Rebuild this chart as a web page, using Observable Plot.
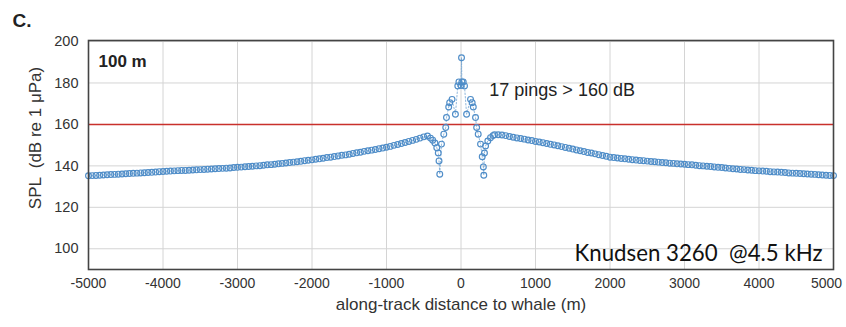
<!DOCTYPE html>
<html>
<head>
<meta charset="utf-8">
<script src="https://cdn.jsdelivr.net/npm/d3@7"></script>
<script src="https://cdn.jsdelivr.net/npm/@observablehq/plot@0.6"></script>
<style>
  html, body { margin: 0; padding: 0; background: #ffffff; }
  #chart { width: 846px; height: 327px; overflow: hidden; }
</style>
</head>
<body>
<div id="chart"></div>
<script>
// ---- tick labels ----
const xTicks = [-5000, -4000, -3000, -2000, -1000, 0, 1000, 2000, 3000, 4000, 5000];
const yTicks = [100, 120, 140, 160, 180, 200];
const threshold = [160];

// ---- left flank of the curve (along-track distance m, SPL dB) ----
const leftDist = [-5000,-4950,-4900,-4850,-4800,-4750,-4700,-4650,-4600,-4550,-4500,-4450,-4400,-4350,-4300,-4250,-4200,-4150,-4100,-4050,
  -4000,-3950,-3900,-3850,-3800,-3750,-3700,-3650,-3600,-3550,-3500,-3450,-3400,-3350,-3300,-3250,-3200,-3150,-3100,-3050,
  -3000,-2950,-2900,-2850,-2800,-2750,-2700,-2650,-2600,-2550,-2500,-2450,-2400,-2350,-2300,-2250,-2200,-2150,-2100,-2050,
  -2000,-1950,-1900,-1850,-1800,-1750,-1700,-1650,-1600,-1550,-1500,-1450,-1400,-1350,-1300,-1250,-1200,-1150,-1100,-1050,
  -1000,-950,-900,-850,-800,-750,-700,-650,-600,-550,-500,-450];
const leftSPL = [135.2,135.3,135.4,135.5,135.6,135.7,135.8,135.9,136.0,136.1,136.2,136.3,136.4,136.5,136.6,136.7,136.8,136.9,137.0,137.2,
  137.3,137.4,137.5,137.6,137.7,137.8,137.8,137.9,138.0,138.1,138.2,138.3,138.4,138.5,138.6,138.7,138.8,138.9,139.0,139.2,
  139.3,139.4,139.6,139.7,139.8,140.0,140.1,140.3,140.5,140.6,140.8,141.0,141.2,141.4,141.6,141.8,142.0,142.2,142.5,142.7,
  142.9,143.2,143.4,143.7,144.0,144.2,144.5,144.8,145.1,145.3,145.6,146.0,146.3,146.6,147.0,147.3,147.6,147.9,148.3,148.6,
  149.0,149.4,149.9,150.3,150.8,151.3,151.8,152.3,152.8,153.4,154.0,154.4];

// ---- near-field pings around the closest approach ----
const centerDist = [-410,-380,-350,-325,-305,-295,-285,-262,-231,-205,-195,-165,-152,-120,-75,-43,-28,
  0,7,12,
  30,47,75,128,150,165,195,210,231,262,285,300,306,315,330,360,396,430];
const centerSPL = [153.4,152.4,151.0,148.8,146.2,142.4,136.0,150.5,155.3,158.5,163.3,168.4,170.5,172.1,164.9,178.6,180.5,
  178.8,192.2,180.5,
  180.5,178.6,164.9,172.1,170.5,168.4,163.3,158.5,155.3,150.5,144.4,139.5,135.5,146.2,149.6,152.0,153.6,154.6];

// ---- right flank of the curve ----
const rightDist = [450,500,550,600,650,700,750,800,850,900,950,1000,1050,1100,1150,1200,1250,1300,1350,1400,
  1450,1500,1550,1600,1650,1700,1750,1800,1850,1900,1950,2000,2050,2100,2150,2200,2250,2300,2350,2400,
  2450,2500,2550,2600,2650,2700,2750,2800,2850,2900,2950,3000,3050,3100,3150,3200,3250,3300,3350,3400,
  3450,3500,3550,3600,3650,3700,3750,3800,3850,3900,3950,4000,4050,4100,4150,4200,4250,4300,4350,4400,
  4450,4500,4550,4600,4650,4700,4750,4800,4850,4900,4950,5000];
const rightSPL = [155.0,155.0,154.9,154.6,154.2,153.8,153.5,153.2,152.9,152.5,152.2,151.8,151.5,151.2,150.8,150.4,150.1,149.7,149.3,148.9,
  148.5,148.1,147.7,147.3,146.9,146.5,146.2,145.8,145.4,145.0,144.6,144.2,144.0,143.8,143.6,143.4,143.2,143.0,142.8,142.6,
  142.5,142.3,142.1,142.0,141.8,141.6,141.5,141.3,141.2,141.0,140.9,140.8,140.6,140.5,140.3,140.1,140.0,139.8,139.7,139.5,
  139.3,139.2,139.0,138.8,138.6,138.5,138.3,138.2,138.0,137.9,137.7,137.6,137.5,137.4,137.2,137.1,137.0,136.9,136.8,136.6,
  136.5,136.4,136.3,136.2,136.1,136.0,135.9,135.7,135.6,135.5,135.4,135.3];

// ---- texts ----
const panelLetter = "C.";
const depthLabel = "100 m";
const pingNote = "17 pings > 160 dB";
const sourceNote = "Knudsen 3260  @4.5 kHz";
const xLabel = "along-track distance to whale (m)";
const yLabel = "SPL  (dB re 1 \u03BCPa)";

// build table
const pings = [];
leftDist.forEach((d, i) => pings.push({dist: d, spl: leftSPL[i]}));
centerDist.forEach((d, i) => pings.push({dist: d, spl: centerSPL[i]}));
rightDist.forEach((d, i) => pings.push({dist: d, spl: rightSPL[i]}));
pings.sort((a, b) => a.dist - b.dist);

const blue = "#4f8dc8";
const font = "'Liberation Sans', Arial, sans-serif";

const chart = Plot.plot({
  width: 846,
  height: 327,
  marginLeft: 88,
  marginRight: 13,
  marginTop: 40,
  marginBottom: 58,
  style: {fontFamily: font, fontSize: "14.5px", color: "#333", background: "#ffffff"},
  x: {domain: [-5000, 5000], label: null},
  y: {domain: [90, 200.5], label: null},
  marks: [
    Plot.gridX(xTicks, {stroke: "#d4d4d4", strokeOpacity: 1, strokeWidth: 1}),
    Plot.gridY(yTicks, {stroke: "#d4d4d4", strokeOpacity: 1, strokeWidth: 1}),
    Plot.ruleY(threshold, {stroke: "#c9302c", strokeWidth: 1.5}),
    Plot.line(pings, {x: "dist", y: "spl", stroke: blue, strokeWidth: 0.8, strokeDasharray: "1.5,2", strokeOpacity: 0.8}),
    Plot.dot(pings, {x: "dist", y: "spl", r: 2.9, stroke: blue, strokeWidth: 1.15, fill: "none"}),
    Plot.frame({stroke: "#444", strokeWidth: 1.6}),
    Plot.axisX(xTicks, {tickSize: 0, tickPadding: 9, tickFormat: d => String(d), fontSize: 14, label: null, className: "xtick"}),
    Plot.axisY(yTicks, {tickSize: 0, tickPadding: 10, tickFormat: d => String(d), fontSize: 14.5, label: null}),
    Plot.text([xLabel], {frameAnchor: "bottom", dy: 40, fontSize: 17, fill: "#333"}),
    Plot.text([yLabel], {frameAnchor: "left", dx: -53, dy: -17, rotate: -90, textAnchor: "middle", fontSize: 17, fill: "#333"}),
    Plot.text([panelLetter], {frameAnchor: "top-left", dx: -76, dy: -27, fontSize: 19, fontWeight: "bold", fill: "#222", textAnchor: "start"}),
    Plot.text([depthLabel], {frameAnchor: "top-left", dx: 10, dy: 14, fontSize: 17, fontWeight: "bold", fill: "#222", textAnchor: "start"}),
    Plot.text([pingNote], {x: 380, y: 176.5, textAnchor: "start", fontSize: 18, fill: "#222"}),
    Plot.text([sourceNote], {frameAnchor: "bottom-right", dx: -11, dy: -9, textAnchor: "end", fontSize: 24, fontFamily: "Lato, 'Open Sans', sans-serif", fill: "#111", className: "srcnote"})
  ]
});

document.getElementById("chart").appendChild(chart);

// fit the source note to the reference width and keep the last tick label inside the page
d3.select(chart).selectAll(".srcnote text").attr("textLength", 248).attr("lengthAdjust", "spacingAndGlyphs");
const xt = d3.select(chart).selectAll(".xtick text").nodes();
if (xt.length) d3.select(xt[xt.length - 1]).attr("dx", -7);
</script>
</body>
</html>
